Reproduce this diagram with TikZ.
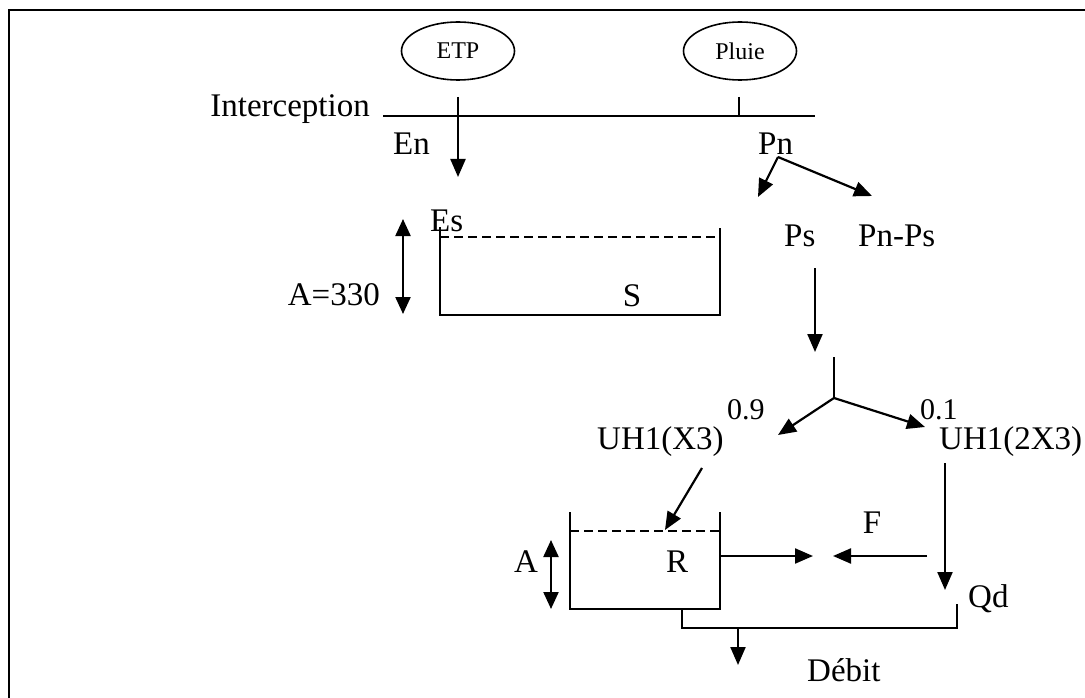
\documentclass[tikz,border=0pt]{standalone}
\usepackage{fontspec}
\setmainfont{Liberation Serif}
\usetikzlibrary{arrows.meta,shapes.geometric}
\begin{document}
\begin{tikzpicture}[x=1pt,y=-1pt,
  lbl/.style={inner sep=0pt, font=\fontsize{33}{38}\selectfont},
  num/.style={inner sep=0pt, font=\fontsize{30}{32}\selectfont},
  sm/.style={inner sep=0pt, font=\fontsize{24}{26}\selectfont},
  arr/.style={line width=2.2pt, -{Triangle[length=18pt,width=15pt]}},
  darr/.style={line width=2.2pt, {Triangle[length=17pt,width=15pt]}-{Triangle[length=17pt,width=15pt]}},
  thinl/.style={line width=1.6pt},
  wall/.style={line width=2.2pt},
  dsh/.style={line width=2.2pt, dash pattern=on 9pt off 5pt},
  oval/.style={draw, ellipse, line width=1.6pt, minimum width=113pt, minimum height=58pt, sm}]
\useasboundingbox (0,0) rectangle (1085,698);
\fill[white] (0,0) rectangle (1085,698);
% frame
\coordinate (f1) at (1085,10);
\coordinate (f2) at (9,10);
\coordinate (f3) at (9,698);
\draw[thinl] (f1) -- (f2) -- (f3);
% top inputs
\node[oval] (etp) at (458,51) {ETP};
\node[oval] (pluie) at (740,51) {Pluie};
\coordinate (il) at (383,116);
\coordinate (ir) at (815,116);
\draw[thinl] (il) -- (ir);
\node[lbl, anchor=base east] (interc) at (370,117) {Interception};
\coordinate (enS) at (458,97);
\coordinate (enE) at (458,177);
\draw[arr] (enS) -- (enE);
\coordinate (pt1) at (739,97);
\coordinate (pt2) at (739,116);
\draw[thinl] (pt1) -- (pt2);
\node[lbl, anchor=base west] (en) at (393,155) {En};
\node[lbl, anchor=base west] (pn) at (758,155) {Pn};
\coordinate (pnS) at (778,157);
\coordinate (psT) at (758,197);
\coordinate (pnpsT) at (872,196);
\draw[arr] (pnS) -- (psT);
\draw[arr] (pnS) -- (pnpsT);
\node[lbl, anchor=base west] (es) at (430,232) {Es};
\node[lbl, anchor=base west] (ps) at (784,246) {Ps};
\node[lbl, anchor=base west] (pnps) at (858,246) {Pn-Ps};
% S reservoir
\coordinate (s1) at (440,227);
\coordinate (s2) at (440,315);
\coordinate (s3) at (720,315);
\coordinate (s4) at (720,228);
\draw[wall] (s1) -- (s2) -- (s3) -- (s4);
\coordinate (sd1) at (440,237);
\coordinate (sd2) at (720,237);
\draw[dsh] (sd1) -- (sd2);
\node[lbl, anchor=base] (s) at (632,306) {S};
\coordinate (a1) at (403,219);
\coordinate (a2) at (403,314);
\draw[darr] (a1) -- (a2);
\node[lbl, anchor=base east] (a330) at (380,305) {A=330};
% routing
\coordinate (psS) at (815,268);
\coordinate (psE) at (815,352);
\draw[arr] (psS) -- (psE);
\coordinate (sp1) at (834,357);
\coordinate (sp2) at (834,398);
\draw[thinl] (sp1) -- (sp2);
\coordinate (uh1T) at (778,435);
\coordinate (uh2T) at (925,427);
\draw[arr] (sp2) -- (uh1T);
\draw[arr] (sp2) -- (uh2T);
\node[num, anchor=base west] (n09) at (727,419) {0.9};
\node[num, anchor=base west] (n01) at (920,419) {0.1};
\node[lbl, anchor=base west] (uh1) at (597,449) {UH1(X3)};
\node[lbl, anchor=base west] (uh2) at (939,449) {UH1(2X3)};
\coordinate (uhS) at (702,468);
\coordinate (uhE) at (665,530);
\draw[arr] (uhS) -- (uhE);
% R reservoir
\coordinate (r1) at (570,512);
\coordinate (r2) at (570,609);
\coordinate (r3) at (720,609);
\coordinate (r4) at (720,512);
\draw[wall] (r1) -- (r2) -- (r3) -- (r4);
\coordinate (rd1) at (570,531);
\coordinate (rd2) at (720,531);
\draw[dsh] (rd1) -- (rd2);
\node[lbl, anchor=base] (r) at (677,572) {R};
\node[lbl, anchor=base] (ra) at (526,572) {A};
\coordinate (ra1) at (551,540);
\coordinate (ra2) at (551,609);
\draw[darr] (ra1) -- (ra2);
\coordinate (roS) at (720,556);
\coordinate (roE) at (813,556);
\draw[arr] (roS) -- (roE);
\node[lbl, anchor=base] (f) at (872,533) {F};
\coordinate (fS) at (927,556);
\coordinate (fE) at (833,556);
\draw[arr] (fS) -- (fE);
\coordinate (qdS) at (945,463);
\coordinate (qdE) at (945,590);
\draw[arr] (qdS) -- (qdE);
\node[lbl, anchor=base west] (qd) at (968,607) {Qd};
% outlet
\coordinate (o1) at (682,609);
\coordinate (o2) at (682,628);
\coordinate (o3) at (957,628);
\coordinate (o4) at (957,604);
\draw[thinl] (o1) -- (o2) -- (o3) -- (o4);
\coordinate (dS) at (738,628);
\coordinate (dE) at (738,665);
\draw[arr] (dS) -- (dE);
\node[lbl, anchor=base west] (debit) at (807,681) {Débit};
\end{tikzpicture}
\end{document}
